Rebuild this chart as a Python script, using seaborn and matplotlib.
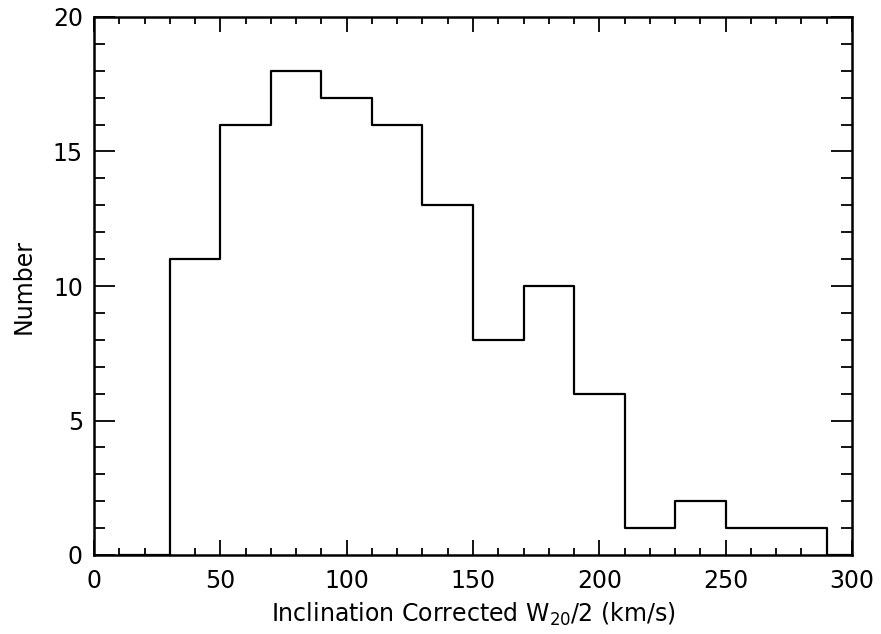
import matplotlib
matplotlib.use("Agg")
import matplotlib.pyplot as plt
from matplotlib.ticker import MultipleLocator
import seaborn as sns
import numpy as np
import pandas as pd

# Empty bins on both sides close the outline down to zero
bin_edges = [10, 30, 50, 70, 90, 110, 130, 150, 170, 190, 210, 230, 250, 270, 290, 310]
counts = [0, 11, 16, 18, 17, 16, 13, 8, 10, 6, 1, 2, 1, 1, 0]
centers = [(a + b) / 2 for a, b in zip(bin_edges[:-1], bin_edges[1:])]
x_ticks = [0, 50, 100, 150, 200, 250, 300]
y_ticks = [0, 5, 10, 15, 20]

df = pd.DataFrame({"w": centers, "n": counts})

sns.set_style("ticks")
plt.rcParams['font.family'] = ['DejaVu Sans']

fig = plt.figure(figsize=(8.81, 6.34), dpi=100)
ax = fig.add_axes([94/881, 1 - 555/634, (852 - 94)/881, (555 - 17)/634])

sns.histplot(data=df, x="w", weights="n", bins=bin_edges, element="step",
             fill=False, color="black", linewidth=1.6, ax=ax)

ax.set_xlim(0, 300)
ax.set_ylim(0, 20)
ax.set_xticks(x_ticks)
ax.set_yticks(y_ticks)
ax.xaxis.set_minor_locator(MultipleLocator(10))
ax.yaxis.set_minor_locator(MultipleLocator(1))
ax.tick_params(which="both", direction="in", top=True, right=True, color="black",
               labelcolor="black", labelsize=17, width=1.3)
ax.tick_params(axis="x", which="major", length=11, pad=10)
ax.tick_params(axis="x", which="minor", length=5)
ax.tick_params(axis="y", which="major", length=15, pad=8)
ax.tick_params(axis="y", which="minor", length=8)
for s in ax.spines.values():
    s.set_linewidth(1.8)
    s.set_color("black")
    s.set_visible(True)
ax.set_xlabel("Inclination Corrected W$_{20}$/2 (km/s)", fontsize=17,
              color="black", labelpad=6)
ax.set_ylabel("Number", fontsize=17, color="black", labelpad=12)

fig.savefig("out.png", dpi=100)
